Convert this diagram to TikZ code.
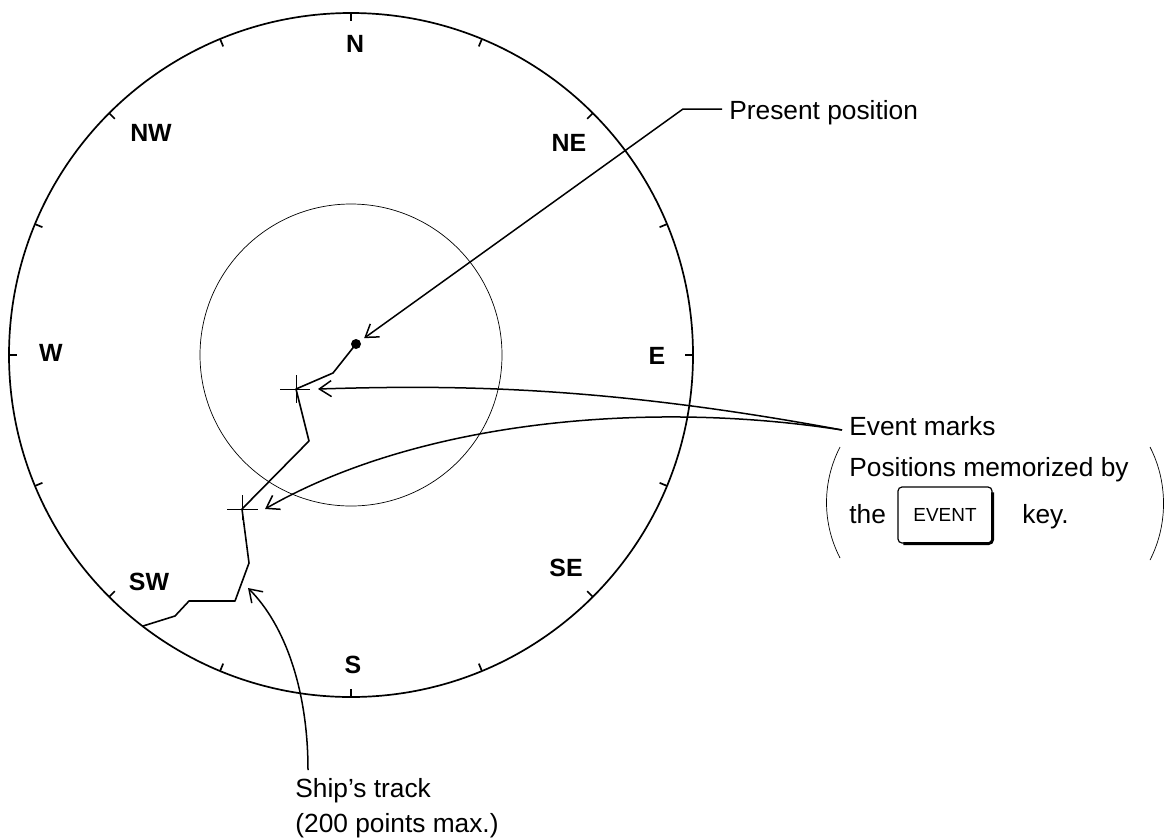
\documentclass[tikz,border=0pt]{standalone}
\usepackage{fontspec}
\setsansfont{Liberation Sans}
\usetikzlibrary{arrows.meta, calc}
\tikzset{
    compass/.style={font=\sffamily\bfseries\fontsize{12.5}{14}\selectfont, inner sep=0pt},
    callout/.style={font=\sffamily\fontsize{13.2}{17.5}\selectfont, inner sep=0pt, anchor=base west},
    rim/.style={draw=black, line width=0.85bp},
    ring/.style={draw=black, line width=0.35bp},
    track/.style={draw=black, line width=0.8bp, line join=round},
    pointer/.style={draw=black, line width=0.75bp, -{Straight Barb[length=6bp, width=8bp]}},
    evmark/.style={draw=black, line width=0.4bp},
    keybox/.style={draw=black, line width=0.6bp, rounded corners=2bp,
        minimum width=47bp, minimum height=28bp, inner sep=0pt,
        font=\sffamily\fontsize{9.5}{11}\selectfont}
}

\begin{document}
\begin{tikzpicture}[x=0.5bp, y=-0.5bp]
\useasboundingbox (0,0) rectangle (1167,837);

% Compass rose
\coordinate (ctr) at (351,355);
\draw[rim] (ctr) circle (342);
\draw[ring] (ctr) circle (151);
\foreach \a in {0,22.5,...,337.5}
    \draw[rim] ($(ctr)+(\a:342)$) -- ($(ctr)+(\a:334)$);

\node[compass] (lblN)  at (355,44)  {N};
\node[compass] (lblNE) at (569,143) {NE};
\node[compass] (lblE)  at (657,356) {E};
\node[compass] (lblSE) at (566,568) {SE};
\node[compass] (lblS)  at (353,665) {S};
\node[compass] (lblSW) at (149,582) {SW};
\node[compass] (lblW)  at (51,353)  {W};
\node[compass] (lblNW) at (151,133) {NW};

% Ship's track
\coordinate (here) at (356,344);
\coordinate (ev1) at (296,389);
\coordinate (ev2) at (242,509);
\draw[track] (here) -- (333,373) -- (ev1) -- (309,441) -- (ev2) -- (249,563)
    -- (235,601) -- (189,601) -- (175,616) -- (143,626);
\fill (here) circle (5);
\draw[evmark] ($(ev1)+(-16,0)$) -- ($(ev1)+(14,0)$) ($(ev1)+(0,-14)$) -- ($(ev1)+(0,14)$);
\draw[evmark] ($(ev2)+(-15,0)$) -- ($(ev2)+(16,0)$) ($(ev2)+(0,-14)$) -- ($(ev2)+(0,11)$);

% Present position
\node[callout] (present) at (729,119) {Present position};
\draw[pointer, shorten >=5bp] ([xshift=-3.5bp, yshift=5bp]present.base west) -- ++(-39,0) -- (here);

% Event marks
\node[callout] (evtxt) at (849,435) {Event marks};
\node[callout] (evmemo) at (849,476) {Positions memorized by};
\node[callout] (evthe) at (849,523) {the};
\node[keybox] (evkey) at (945,515) {EVENT};
\draw[line width=1.4bp, rounded corners=2bp] ([yshift=-3bp]evkey.north east) -- (evkey.south east) -- ([xshift=3bp]evkey.south west);
\node[callout] (evkeytxt) at (1022,523) {key.};
\draw[ring] (840,447) .. controls (822,482) and (822,523) .. (840,558);
\draw[ring] (1150,447) .. controls (1168,482) and (1168,525) .. (1150,560);
\coordinate (evfoot) at (842,430);
\draw[pointer] (evfoot) .. controls (600,385) and (450,385) .. ($(ev1)+(22,0)$);
\draw[pointer] (evfoot) .. controls (650,400) and (420,420) .. ($(ev2)+(23,0)$);

% Ship's track label
\node[callout, align=left] (shiptxt) at (295,832) {Ship's track\\(200 points max.)};
\draw[pointer] (308,770) .. controls (308,690) and (285,625) .. (248,588);

\end{tikzpicture}
\end{document}
